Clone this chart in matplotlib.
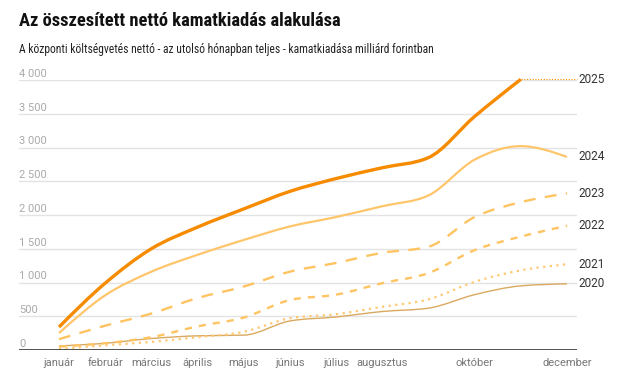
import numpy as np
import matplotlib
matplotlib.use("Agg")
from matplotlib import pyplot as plt
from matplotlib.path import Path
from matplotlib.patches import PathPatch
from matplotlib import font_manager

plt.rcParams['font.family'] = ['Roboto', 'DejaVu Sans']

months = ["január", "február", "március", "április", "május", "június",
          "július", "augusztus", "", "október", "", "december"]

y2020 = [60, 100, 170, 210, 220, 430, 490, 570, 620, 820, 950, 980]
y2021 = [15, 70, 120, 190, 270, 470, 530, 640, 750, 1010, 1180, 1270]
y2022 = [50, 100, 190, 350, 480, 740, 820, 990, 1140, 1480, 1680, 1840]
y2023 = [160, 360, 540, 770, 940, 1160, 1290, 1440, 1530, 1970, 2190, 2320]
y2024 = [250, 810, 1160, 1410, 1630, 1830, 1970, 2130, 2290, 2820, 3020, 2860]
y2025 = [340, 990, 1500, 1820, 2090, 2350, 2540, 2700, 2850, 3460, 4010]

yticks = [0, 500, 1000, 1500, 2000, 2500, 3000, 3500, 4000]

names = {f.name for f in font_manager.fontManager.ttflist}
narrow = [n for n in ["Roboto Condensed", "Liberation Sans Narrow", "DejaVu Sans Condensed"] if n in names]


def smooth_path(x, y):
    # monotone cubic (like d3 curveMonotoneX), drawn as bezier segments
    x = np.asarray(x, float)
    y = np.asarray(y, float)
    n = len(x)
    h = np.diff(x)
    s = np.diff(y) / h
    t = np.zeros(n)
    for i in range(1, n - 1):
        if s[i - 1] * s[i] <= 0:
            t[i] = 0
        else:
            p = (s[i - 1] * h[i] + s[i] * h[i - 1]) / (h[i - 1] + h[i])
            t[i] = (np.sign(s[i - 1]) + np.sign(s[i])) * min(abs(s[i - 1]), abs(s[i]), 0.5 * abs(p))
    t[0] = (3 * s[0] - t[1]) / 2
    t[-1] = (3 * s[-1] - t[-2]) / 2
    verts = [(x[0], y[0])]
    codes = [Path.MOVETO]
    for i in range(n - 1):
        d = h[i] / 3
        verts += [(x[i] + d, y[i] + d * t[i]),
                  (x[i + 1] - d, y[i + 1] - d * t[i + 1]),
                  (x[i + 1], y[i + 1])]
        codes += [Path.CURVE4] * 3
    return Path(verts, codes)


fig = plt.figure(figsize=(6.23, 3.8), dpi=100)
ax = fig.add_axes([19 / 623, 1 - 350 / 380, (577 - 19) / 623, 270 / 380])

xs = np.arange(12)
x0 = -(59 - 19) / 46.2
x1 = 11 + (577 - 567) / 46.2
ax.set_xlim(x0, x1)
ax.set_ylim(0, 4000)

for v in yticks:
    if v > 0:
        ax.axhline(v, color="#e3e3e3", lw=1, zorder=0)
    ax.text(0, v + 45, f"{v:,}".replace(",", " "), transform=ax.get_yaxis_transform(),
            color="#aaaaaa", fontsize=8, ha="left", va="baseline")
ax.axhline(0, color="#333333", lw=1.2, zorder=5)

series = [
    (y2020, "2020", dict(color="#d9a95f", lw=1.0, ls="-")),
    (y2021, "2021", dict(color="#ffc870", lw=1.6, ls=(0, (1, 2)))),
    (y2022, "2022", dict(color="#ffc461", lw=1.7, ls=(0, (3, 3)))),
    (y2023, "2023", dict(color="#ffc461", lw=1.7, ls=(0, (5, 4)))),
    (y2024, "2024", dict(color="#ffc56b", lw=1.6, ls="-")),
    (y2025, "2025", dict(color="#f68b00", lw=2.4, ls="-")),
]

for vals, name, st in series:
    p = smooth_path(xs[:len(vals)], vals)
    patch = PathPatch(p, facecolor="none", edgecolor=st["color"], lw=st["lw"],
                      linestyle=st["ls"], capstyle="butt", zorder=3, clip_on=False)
    ax.add_patch(patch)
    ax.text(1.003, vals[-1], name, transform=ax.get_yaxis_transform(),
            color="#333333", fontsize=8.5, ha="left", va="center", clip_on=False)

# dotted connector from the last 2025 value to the label
ax.plot([len(y2025) - 1, x1], [y2025[-1], y2025[-1]], color="#f68b00",
        lw=0.8, ls=(0, (1, 1.5)), zorder=3, clip_on=False)

ax.set_xticks(xs)
ax.set_xticklabels(months, color="#777777", fontsize=8)
ax.tick_params(axis="x", length=0, pad=6)
ax.set_yticks([])
for sp in ax.spines.values():
    sp.set_visible(False)

head = narrow + ['Roboto', 'DejaVu Sans']
fig.text(19 / 623, 1 - 21 / 380, "Az összesített nettó kamatkiadás alakulása",
         fontsize=13.3 if narrow else 12.5, fontweight="bold", color="#111111",
         ha="left", va="center", family=head)
fig.text(19 / 623, 1 - 49 / 380,
         "A központi költségvetés nettó - az utolsó hónapban teljes - kamatkiadása milliárd forintban",
         fontsize=8.4 if narrow else 8, color="#222222", ha="left", va="center", family=head)

fig.savefig("out.png", dpi=100)
